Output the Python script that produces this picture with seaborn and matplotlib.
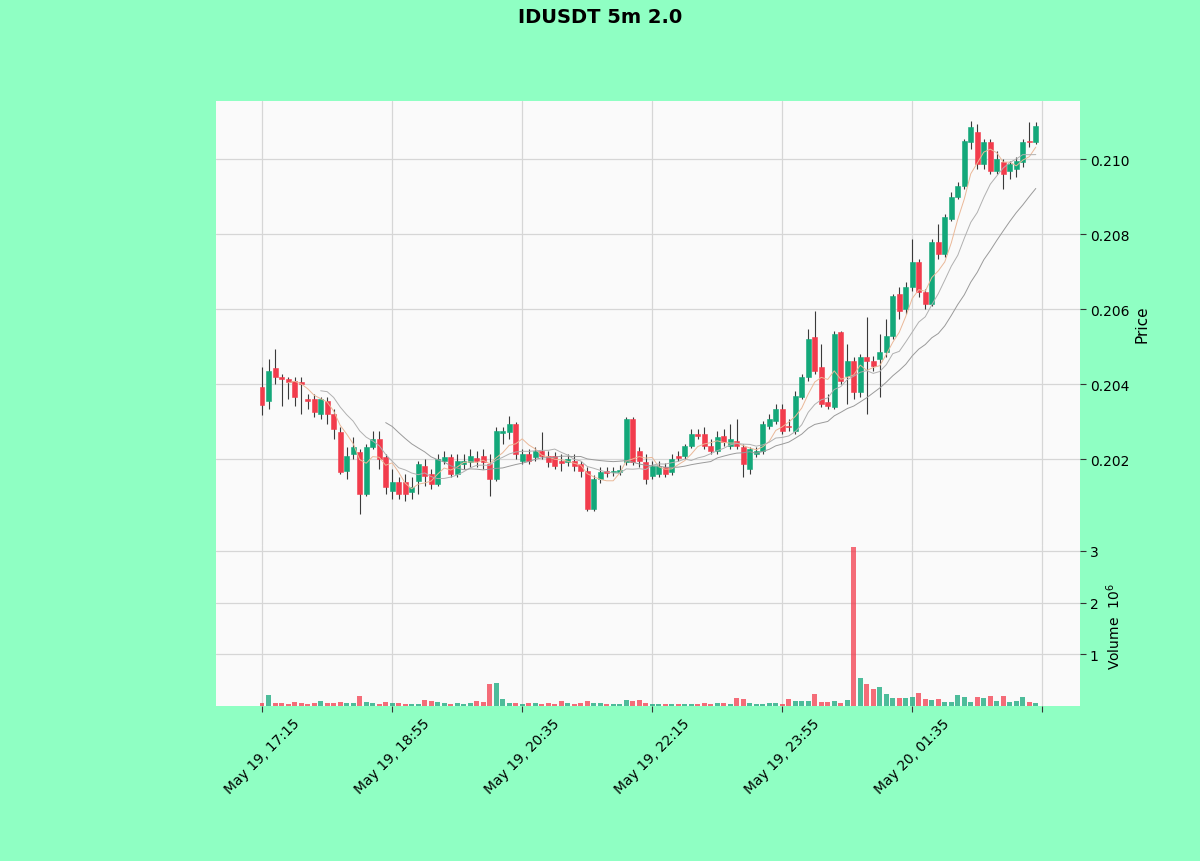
import numpy as np
import pandas as pd
import matplotlib
matplotlib.use('Agg')
import matplotlib.pyplot as plt
import seaborn as sns

sns.set_theme(style='whitegrid')
plt.rcParams['font.family'] = ['DejaVu Sans']
plt.rcParams['text.color'] = 'black'
plt.rcParams['axes.labelcolor'] = 'black'
plt.rcParams['xtick.color'] = 'black'
plt.rcParams['ytick.color'] = 'black'

title = 'IDUSDT 5m 2.0'
start_time = '2024-05-19 17:15'

opens = [0.20392, 0.20355, 0.20443, 0.20419, 0.20413, 0.20408, 0.20405, 0.20360, 0.20360, 0.20320,
         0.20355, 0.20320, 0.20272, 0.20168, 0.20213, 0.20219, 0.20107, 0.20232, 0.20253, 0.20205,
         0.20115, 0.20139, 0.20139, 0.20112, 0.20141, 0.20181, 0.20160, 0.20133, 0.20195, 0.20205,
         0.20160, 0.20187, 0.20192, 0.20203, 0.20208, 0.20187, 0.20147, 0.20269, 0.20272, 0.20293,
         0.20195, 0.20213, 0.20205, 0.20221, 0.20208, 0.20208, 0.20195, 0.20192, 0.20195, 0.20187,
         0.20168, 0.20067, 0.20147, 0.20168, 0.20165, 0.20165, 0.20192, 0.20307, 0.20221, 0.20192,
         0.20155, 0.20160, 0.20179, 0.20165, 0.20208, 0.20208, 0.20235, 0.20267, 0.20267, 0.20235,
         0.20221, 0.20261, 0.20235, 0.20248, 0.20232, 0.20173, 0.20213, 0.20221, 0.20288, 0.20301,
         0.20333, 0.20288, 0.20275, 0.20365, 0.20419, 0.20525, 0.20445, 0.20352, 0.20339, 0.20539,
         0.20421, 0.20461, 0.20379, 0.20472, 0.20461, 0.20467, 0.20485, 0.20528, 0.20640, 0.20600,
         0.20659, 0.20725, 0.20645, 0.20613, 0.20779, 0.20747, 0.20840, 0.20899, 0.20928, 0.21045,
         0.21072, 0.20987, 0.21045, 0.20968, 0.20992, 0.20968, 0.20973, 0.20992, 0.21048, 0.21045]
highs = [0.20445, 0.20467, 0.20493, 0.20427, 0.20419, 0.20419, 0.20419, 0.20373, 0.20373, 0.20365,
         0.20365, 0.20333, 0.20285, 0.20232, 0.20259, 0.20227, 0.20240, 0.20275, 0.20275, 0.20213,
         0.20173, 0.20152, 0.20160, 0.20152, 0.20195, 0.20200, 0.20173, 0.20213, 0.20221, 0.20213,
         0.20213, 0.20213, 0.20227, 0.20221, 0.20227, 0.20213, 0.20285, 0.20285, 0.20315, 0.20299,
         0.20227, 0.20227, 0.20232, 0.20272, 0.20221, 0.20219, 0.20213, 0.20213, 0.20213, 0.20195,
         0.20179, 0.20157, 0.20179, 0.20179, 0.20179, 0.20184, 0.20312, 0.20312, 0.20232, 0.20213,
         0.20195, 0.20195, 0.20189, 0.20213, 0.20221, 0.20240, 0.20280, 0.20280, 0.20285, 0.20253,
         0.20275, 0.20280, 0.20293, 0.20307, 0.20240, 0.20232, 0.20232, 0.20301, 0.20320, 0.20347,
         0.20347, 0.20307, 0.20381, 0.20427, 0.20547, 0.20595, 0.20507, 0.20373, 0.20541, 0.20541,
         0.20507, 0.20472, 0.20480, 0.20579, 0.20475, 0.20533, 0.20573, 0.20640, 0.20659, 0.20672,
         0.20787, 0.20733, 0.20653, 0.20787, 0.20827, 0.20853, 0.20912, 0.20939, 0.21053, 0.21101,
         0.21093, 0.21053, 0.21053, 0.21021, 0.21000, 0.20995, 0.21005, 0.21053, 0.21099, 0.21099]
lows = [0.20317, 0.20333, 0.20400, 0.20341, 0.20360, 0.20341, 0.20320, 0.20333, 0.20312, 0.20307,
        0.20293, 0.20253, 0.20160, 0.20147, 0.20200, 0.20053, 0.20101, 0.20227, 0.20173, 0.20107,
        0.20093, 0.20093, 0.20088, 0.20093, 0.20107, 0.20128, 0.20120, 0.20128, 0.20187, 0.20152,
        0.20152, 0.20173, 0.20179, 0.20179, 0.20173, 0.20101, 0.20141, 0.20240, 0.20253, 0.20200,
        0.20187, 0.20187, 0.20195, 0.20200, 0.20179, 0.20173, 0.20168, 0.20181, 0.20168, 0.20152,
        0.20061, 0.20061, 0.20136, 0.20152, 0.20155, 0.20157, 0.20184, 0.20184, 0.20179, 0.20133,
        0.20147, 0.20152, 0.20152, 0.20157, 0.20195, 0.20200, 0.20229, 0.20253, 0.20227, 0.20213,
        0.20213, 0.20235, 0.20227, 0.20227, 0.20152, 0.20160, 0.20205, 0.20213, 0.20280, 0.20293,
        0.20267, 0.20275, 0.20267, 0.20360, 0.20408, 0.20427, 0.20339, 0.20333, 0.20333, 0.20400,
        0.20347, 0.20360, 0.20365, 0.20320, 0.20435, 0.20365, 0.20472, 0.20520, 0.20573, 0.20587,
        0.20648, 0.20632, 0.20600, 0.20608, 0.20733, 0.20739, 0.20835, 0.20893, 0.20920, 0.21027,
        0.20973, 0.20973, 0.20960, 0.20960, 0.20920, 0.20947, 0.20952, 0.20979, 0.21032, 0.21040]
closes = [0.20344, 0.20435, 0.20419, 0.20413, 0.20405, 0.20365, 0.20400, 0.20355, 0.20325, 0.20360,
          0.20320, 0.20280, 0.20165, 0.20208, 0.20232, 0.20107, 0.20232, 0.20253, 0.20200, 0.20125,
          0.20139, 0.20107, 0.20107, 0.20125, 0.20187, 0.20155, 0.20133, 0.20200, 0.20205, 0.20160,
          0.20195, 0.20195, 0.20208, 0.20195, 0.20192, 0.20147, 0.20275, 0.20275, 0.20293, 0.20213,
          0.20213, 0.20195, 0.20221, 0.20208, 0.20192, 0.20181, 0.20189, 0.20200, 0.20181, 0.20168,
          0.20067, 0.20147, 0.20165, 0.20163, 0.20168, 0.20171, 0.20307, 0.20192, 0.20195, 0.20147,
          0.20181, 0.20181, 0.20160, 0.20200, 0.20203, 0.20235, 0.20267, 0.20261, 0.20235, 0.20221,
          0.20259, 0.20245, 0.20253, 0.20235, 0.20187, 0.20227, 0.20221, 0.20293, 0.20307, 0.20333,
          0.20275, 0.20285, 0.20368, 0.20419, 0.20520, 0.20435, 0.20347, 0.20341, 0.20533, 0.20408,
          0.20461, 0.20379, 0.20472, 0.20461, 0.20448, 0.20485, 0.20528, 0.20635, 0.20595, 0.20659,
          0.20725, 0.20645, 0.20613, 0.20779, 0.20747, 0.20845, 0.20899, 0.20928, 0.21048, 0.21085,
          0.20987, 0.21045, 0.20968, 0.21000, 0.20960, 0.20987, 0.20995, 0.21045, 0.21045, 0.21088]
volume_m = [0.06, 0.21, 0.05, 0.06, 0.04, 0.07, 0.06, 0.04, 0.05, 0.09,
            0.05, 0.06, 0.07, 0.05, 0.06, 0.19, 0.08, 0.05, 0.04, 0.07,
            0.06, 0.06, 0.04, 0.03, 0.03, 0.11, 0.09, 0.07, 0.05, 0.04,
            0.06, 0.04, 0.05, 0.10, 0.08, 0.42, 0.45, 0.14, 0.06, 0.05,
            0.04, 0.05, 0.05, 0.04, 0.05, 0.04, 0.10, 0.05, 0.04, 0.06,
            0.09, 0.06, 0.05, 0.04, 0.03, 0.03, 0.11, 0.09, 0.11, 0.06,
            0.04, 0.03, 0.03, 0.04, 0.03, 0.03, 0.03, 0.03, 0.05, 0.04,
            0.06, 0.05, 0.04, 0.16, 0.13, 0.06, 0.04, 0.04, 0.05, 0.05,
            0.04, 0.13, 0.10, 0.10, 0.09, 0.24, 0.08, 0.07, 0.10, 0.06,
            0.12, 3.07, 0.55, 0.42, 0.33, 0.36, 0.24, 0.16, 0.16, 0.15,
            0.17, 0.25, 0.14, 0.12, 0.13, 0.08, 0.07, 0.21, 0.17, 0.08,
            0.18, 0.15, 0.19, 0.10, 0.20, 0.07, 0.10, 0.18, 0.08, 0.06]
ma_windows = [5, 10, 20]
ma_colors = ['#eab898', '#b0b0b0', '#9a9a9a']
price_ticks = [0.202, 0.204, 0.206, 0.208, 0.210]
volume_ticks = [1, 2, 3]

up_color = '#13a87a'
down_color = '#f23c4c'
fig_bg = '#8fffc3'
ax_bg = '#fafafa'
grid_color = '#d6d6d6'

n = len(closes)
df = pd.DataFrame({'open': opens, 'high': highs, 'low': lows, 'close': closes, 'volume': volume_m})
df['time'] = pd.date_range(start_time, periods=n, freq='5min')
df['x'] = np.arange(n)

fig = plt.figure(figsize=(12, 8.62), dpi=100)
fig.patch.set_facecolor(fig_bg)
ax = fig.add_axes([0.18, 0.36659, 0.72, 0.51508])
axv = fig.add_axes([0.18, 0.17981, 0.72, 0.18678], sharex=ax)

for a in (ax, axv):
    a.set_facecolor(ax_bg)
    a.grid(True, color=grid_color, linewidth=0.9)
    for s in a.spines.values():
        s.set_visible(False)
    a.set_axisbelow(True)

is_up = df['close'] >= df['open']
colors = np.where(is_up, up_color, down_color)
body_bottom = np.minimum(df['open'], df['close'])
body_height = np.maximum((df['close'] - df['open']).abs(), 0.000012)

ax.vlines(df['x'], df['low'], df['high'], color='#3a3a3a', linewidth=0.8, zorder=2)
ax.bar(df['x'], body_height, bottom=body_bottom, width=0.72, color=colors,
       edgecolor=colors, linewidth=0.4, zorder=3)

for w, c in zip(ma_windows, ma_colors):
    ma = df['close'].rolling(w).mean()
    sub = pd.DataFrame({'x': df['x'], 'ma': ma}).dropna()
    sns.lineplot(data=sub, x='x', y='ma', ax=ax, color=c, linewidth=0.7, zorder=4, legend=False)

axv.bar(df['x'], df['volume'], width=0.72, color=colors, alpha=0.75, linewidth=0, zorder=3)

ax.set_xlim(-7.1, 125.8)
ax.set_ylim(0.199707, 0.21155)
axv.set_ylim(0, 3.116)

ax.yaxis.tick_right()
ax.yaxis.set_label_position('right')
ax.set_yticks(price_ticks)
ax.set_yticklabels([f'{t:.3f}' for t in price_ticks])
ax.set_ylabel('Price', fontsize=11)
ax.set_xlabel('')
ax.tick_params(axis='y', right=True, length=4, width=0.8, color='#333333', labelsize=10, pad=3)
ax.tick_params(axis='x', bottom=False, labelbottom=False)

axv.yaxis.tick_right()
axv.yaxis.set_label_position('right')
axv.set_yticks(volume_ticks)
axv.set_yticklabels([str(t) for t in volume_ticks])
axv.set_ylabel('Volume  $10^{6}$', fontsize=10)
axv.tick_params(axis='y', right=True, length=4, width=0.8, color='#333333', labelsize=10, pad=3)

tick_idx = list(range(0, n + 1, 20))
tick_labels = [df['time'][i].strftime('%b %d, %H:%M') if i < n else '' for i in tick_idx]
axv.set_xticks(tick_idx)
axv.set_xticklabels(tick_labels, rotation=45, ha='center', fontsize=10)
axv.tick_params(axis='x', bottom=True, length=4, width=0.8, color='#333333', pad=3)

fig.suptitle(title, fontsize=14, fontweight='bold', y=0.991, color='black')

fig.savefig('out.png', dpi=100, facecolor=fig_bg)
